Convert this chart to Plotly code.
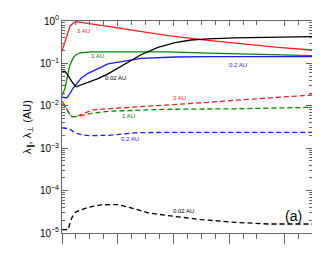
import plotly.graph_objects as go

# x positions (unlabelled axis units) and values
x_red_par = [0, 0.036, 0.072, 0.108, 0.144, 0.197, 0.251, 0.467, 0.826, 1.418, 1.903, 2.621, 3.339, 3.878, 4.488]
y_red_par = [0.196, 0.282, 0.391, 0.572, 0.750, 0.883, 0.968, 0.883, 0.750, 0.562, 0.453, 0.351, 0.282, 0.240, 0.207]

x_green_par = [0, 0.054, 0.090, 0.126, 0.162, 0.215, 0.251, 0.323, 0.521, 1.185, 1.903, 2.621, 3.519, 4.488]
y_green_par = [0.0177, 0.0259, 0.0445, 0.0766, 0.106, 0.143, 0.160, 0.178, 0.188, 0.190, 0.186, 0.175, 0.164, 0.153]

x_blue_par = [0, 0.090, 0.144, 0.197, 0.251, 0.341, 0.467, 0.610, 0.826, 1.418, 2.029, 2.621, 4.488]
y_blue_par = [0.0159, 0.01545, 0.0197, 0.0259, 0.0313, 0.0445, 0.0584, 0.0726, 0.0979, 0.132, 0.1416, 0.1446, 0.1446]

x_black_par = [0, 0.054, 0.108, 0.180, 0.251, 0.467, 0.646, 0.826, 1.131, 1.418, 1.723, 2.029, 2.316, 2.621, 3.106, 3.698, 4.488]
y_black_par = [0.0651, 0.0651, 0.0524, 0.0368, 0.0281, 0.0358, 0.0438, 0.0568, 0.0953, 0.160, 0.240, 0.309, 0.356, 0.380, 0.402, 0.417, 0.429]

x_red_perp = [0, 0.054, 0.126, 0.180, 0.251, 0.395, 0.557, 0.826, 1.418, 1.903, 2.621, 3.106, 3.698, 4.488]
y_red_perp = [0.01277, 0.01028, 0.00665, 0.00556, 0.00556, 0.00665, 0.00805, 0.00850, 0.00947, 0.01028, 0.01210, 0.01349, 0.01545, 0.01798]

x_green_perp = [0, 0.072, 0.126, 0.180, 0.251, 0.395, 0.539, 0.826, 1.418, 1.903, 3.106, 4.488]
y_green_perp = [0.01084, 0.00922, 0.00665, 0.00556, 0.00556, 0.00613, 0.00665, 0.00742, 0.00796, 0.00827, 0.00850, 0.00922]

x_blue_perp = [0, 0.126, 0.197, 0.251, 0.377, 0.485, 0.826, 1.311, 1.903, 4.488]
y_blue_perp = [0.00303, 0.00287, 0.00250, 0.00225, 0.00205, 0.00198, 0.00201, 0.00231, 0.00237, 0.00237]

x_black_perp = [0, 0.108, 0.144, 0.180, 0.251, 0.467, 0.700, 1.005, 1.239, 1.544, 1.903, 2.496, 3.106, 3.698, 4.488]
y_black_perp = [1.202e-5, 1.202e-5, 1.694e-5, 2.344e-5, 3.162e-5, 4.036e-5, 4.624e-5, 4.677e-5, 3.926e-5, 2.994e-5, 2.570e-5, 2.070e-5, 1.787e-5, 1.630e-5, 1.630e-5]

y_tickvals = [1e-5, 1e-4, 1e-3, 1e-2, 1e-1, 1]
y_ticktext = ["10<sup>−5</sup>", "10<sup>−4</sup>", "10<sup>−3</sup>", "10<sup>−2</sup>", "10<sup>−1</sup>", "10<sup>0</sup>"]
x_major = [0, 1, 2, 3, 4]
x_minor = [0.25, 0.5, 0.75, 1.25, 1.5, 1.75, 2.25, 2.5, 2.75, 3.25, 3.5, 4.25]

RED = "#ff1a1a"
GREEN = "#008a00"
BLUE = "#1a1aff"
BLACK = "#000000"
FONT = "Liberation Sans, Arial, sans-serif"
AXC = "#666666"

fig = go.Figure()

series = [
    (x_red_par, y_red_par, RED, "solid"),
    (x_green_par, y_green_par, GREEN, "solid"),
    (x_blue_par, y_blue_par, BLUE, "solid"),
    (x_black_par, y_black_par, BLACK, "solid"),
    (x_red_perp, y_red_perp, RED, "5px,3px"),
    (x_green_perp, y_green_perp, GREEN, "5px,3px"),
    (x_blue_perp, y_blue_perp, BLUE, "5px,3px"),
    (x_black_perp, y_black_perp, BLACK, "5px,3px"),
]
for xs, ys, c, d in series:
    fig.add_trace(go.Scatter(x=xs, y=ys, mode="lines", line=dict(color=c, width=1.3, dash=d),
                             showlegend=False, hoverinfo="skip"))

# invisible trace for top axis
fig.add_trace(go.Scatter(x=[0, 4.488], y=[1e-5, 1], xaxis="x2", mode="lines",
                         line=dict(width=0), showlegend=False, hoverinfo="skip"))

minor_y = [m * 10 ** k for k in range(-5, 0) for m in range(2, 10)]

fig.update_layout(
    template="none",
    width=320, height=256,
    margin=dict(l=54, r=16, t=13, b=31, pad=0),
    paper_bgcolor="white", plot_bgcolor="white",
    font=dict(family=FONT, size=10, color="black"),
    xaxis=dict(range=[0, 4.488], tickmode="array", tickvals=x_major, showticklabels=False,
               ticks="outside", ticklen=10, tickcolor=AXC, showline=True, linecolor=AXC,
               linewidth=1, showgrid=False, zeroline=False, automargin=False,
               minor=dict(tickmode="array", tickvals=x_minor, ticks="outside", ticklen=5,
                          tickcolor=AXC, showgrid=False)),
    xaxis2=dict(range=[0, 4.488], overlaying="x", side="top", anchor="y", matches="x",
                tickmode="array", tickvals=x_major, showticklabels=False,
                ticks="inside", ticklen=5, tickcolor=AXC, showline=True, linecolor=AXC,
                linewidth=1, showgrid=False, zeroline=False, automargin=False,
                minor=dict(tickmode="array", tickvals=x_minor, ticks="inside", ticklen=4,
                           tickcolor=AXC, showgrid=False)),
    yaxis=dict(type="log", range=[-5, 0], tickmode="array", tickvals=y_tickvals,
               ticktext=y_ticktext, ticks="inside", ticklen=6, tickcolor=AXC,
               showline=True, linecolor=AXC, linewidth=1, mirror="ticks",
               showgrid=False, zeroline=False, tickfont=dict(size=10), automargin=False,
               minor=dict(tickmode="array", tickvals=minor_y, ticks="inside", ticklen=3,
                          tickcolor=AXC, showgrid=False),
               title=dict(text="λ<sub>∥</sub>, λ<sub>⊥</sub> (AU)", font=dict(size=11), standoff=6)),
)

labels = [
    ("3 AU", 0.377, -0.243, RED),
    ("1 AU", 0.646, -0.833, GREEN),
    ("0.02 AU", 0.952, -1.351, BLACK),
    ("0.2 AU", 3.160, -1.045, BLUE),
    ("3 AU", 2.118, -1.823, RED),
    ("1 AU", 1.185, -2.248, GREEN),
    ("0.2 AU", 1.221, -2.778, BLUE),
    ("0.02 AU", 2.190, -4.488, BLACK),
]
for t, x, y, c in labels:
    fig.add_annotation(x=x, y=y, text=t, showarrow=False, xref="x", yref="y",
                       font=dict(size=6, color=c, family=FONT))
fig.add_annotation(x=4.147, y=-4.606, text="(a)", showarrow=False, xref="x", yref="y",
                   font=dict(size=14, color="black", family=FONT))

fig.write_html("out.html")
